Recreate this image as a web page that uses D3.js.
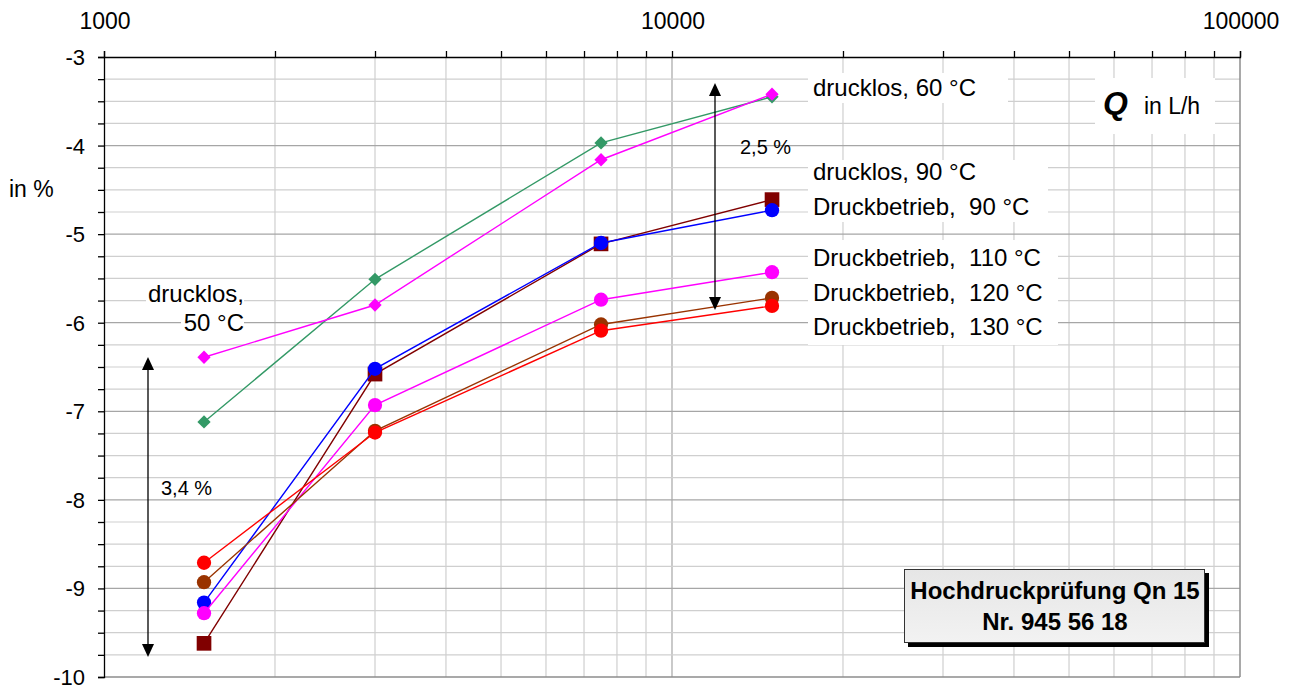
<!DOCTYPE html>
<html>
<head>
<meta charset="utf-8">
<script src="https://cdn.jsdelivr.net/npm/d3@7"></script>
<style>
  html, body { margin: 0; padding: 0; background: #fff; }
  svg { display: block; font-family: "Liberation Sans", Arial, sans-serif; }
</style>
</head>
<body>
<svg id="chart" width="1295" height="691"></svg>
<script>
// Durchfluss Q in L/h (Messpunkte)
const flows = [1500, 3000, 7500, 15000];

// Messabweichung in % je Betriebszustand
const druckl50 = [-6.39, -5.80, -4.16, -3.42];
const druckl60 = [-7.12, -5.51, -3.97, -3.45];
const druckl90 = [-9.62, -6.58, -5.11, -4.61];
const druckb90 = [-9.16, -6.52, -5.10, -4.73];
const druckb110 = [-9.28, -6.93, -5.74, -5.43];
const druckb120 = [-8.93, -7.22, -6.02, -5.72];
const druckb130 = [-8.71, -7.24, -6.09, -5.81];

const xTickLabels = [1000, 10000, 100000];
const yTickLabels = [-3, -4, -5, -6, -7, -8, -9, -10];

const series = [
  { values: druckl60, color: "#339966", shape: "diamond" },
  { values: druckl50, color: "#ff00ff", shape: "diamond" },
  { values: druckl90, color: "#800000", shape: "square" },
  { values: druckb90, color: "#0000ff", shape: "circle" },
  { values: druckb110, color: "#ff00ff", shape: "circle" },
  { values: druckb120, color: "#993300", shape: "circle" },
  { values: druckb130, color: "#ff0000", shape: "circle" }
];

const svg = d3.select("#chart");
const L = 104, R = 1240, T = 57, B = 677;

const x = d3.scaleLog().domain([1000, 100000]).range([L, R]);
const y = d3.scaleLinear().domain([-10, -3]).range([B, T]);

// Gitternetz: senkrecht je Dekadenteilung, waagerecht alle 0,25 %
const xGrid = [];
for (let d = 1000; d < 100000; d *= 10) for (let k = 1; k <= 9; k++) xGrid.push(d * k);
const yGrid = d3.range(-10, -2.99, 0.25);

const grid = svg.append("g");
grid.selectAll("line.v").data(xGrid.filter(v => v > 1000)).join("line")
  .attr("x1", d => x(d)).attr("x2", d => x(d))
  .attr("y1", T).attr("y2", B)
  .attr("stroke", d => (Math.abs(Math.log10(d) % 1) < 1e-9) ? "#a6a6a6" : "#cfcfcf")
  .attr("stroke-width", 1.2);
grid.selectAll("line.h").data(yGrid.filter(v => v > -10 && v < -3)).join("line")
  .attr("x1", L).attr("x2", R)
  .attr("y1", d => y(d)).attr("y2", d => y(d))
  .attr("stroke", d => Math.abs(d - Math.round(d)) < 1e-9 ? "#a6a6a6" : "#cfcfcf")
  .attr("stroke-width", 1.2);

// Rahmen rechts / unten
svg.append("line").attr("x1", R).attr("x2", R).attr("y1", T).attr("y2", B).attr("stroke", "#8c8c8c").attr("stroke-width", 1.5);
svg.append("line").attr("x1", L).attr("x2", R).attr("y1", B).attr("y2", B).attr("stroke", "#8c8c8c").attr("stroke-width", 1.5);

// Achsen
const topAxis = d3.axisTop(x).tickValues(xGrid.concat([100000])).tickSize(6).tickFormat("");
svg.append("g").attr("transform", `translate(0,${T})`).call(topAxis)
  .call(g => g.selectAll("line,path").attr("stroke", "#000").attr("stroke-width", 1.3));
svg.append("g").selectAll("text").data(xTickLabels).join("text")
  .attr("x", d => x(d) + 1).attr("y", 29).attr("text-anchor", "middle")
  .attr("font-size", 23).attr("fill", "#000").text(d => d);

const leftAxis = d3.axisLeft(y).tickValues(yGrid).tickSize(6).tickFormat("");
svg.append("g").attr("transform", `translate(${L},0)`).call(leftAxis)
  .call(g => g.selectAll("line,path").attr("stroke", "#000").attr("stroke-width", 1.3));
svg.append("g").selectAll("text").data(yTickLabels).join("text")
  .attr("x", 85).attr("y", d => y(d) + 8).attr("text-anchor", "end")
  .attr("font-size", 22).attr("fill", "#000").text(d => d);

svg.append("text").attr("x", 9).attr("y", 197).attr("font-size", 23).text("in %");

// Beschriftungsfelder mit weißem Hintergrund
function labelBox(bx, by, bw, bh) {
  svg.append("rect").attr("x", bx).attr("y", by).attr("width", bw).attr("height", bh).attr("fill", "#fff");
}
labelBox(808, 73, 200, 30);
labelBox(808, 160, 240, 62);
labelBox(808, 240, 250, 105);
labelBox(1095, 78, 120, 56);
labelBox(146, 283, 98, 22);
labelBox(181, 309, 63, 24);

// Kurven
const line = d3.line().x((d, i) => x(flows[i])).y(d => y(d));
const sym = { diamond: d3.symbolSquare, square: d3.symbolSquare, circle: d3.symbolCircle };
const size = { diamond: 88, square: 215, circle: 160 };
const rot = { diamond: 45, square: 0, circle: 0 };

series.forEach(s => {
  const g = svg.append("g");
  g.append("path").attr("d", line(s.values)).attr("fill", "none")
    .attr("stroke", s.color).attr("stroke-width", 1.4);
  g.selectAll("path.m").data(s.values).join("path")
    .attr("transform", (d, i) => `translate(${x(flows[i])},${y(d)}) rotate(${rot[s.shape]})`)
    .attr("d", d3.symbol().type(sym[s.shape]).size(size[s.shape]))
    .attr("fill", s.color);
});

// Spannweiten-Pfeile
function arrow(ax, y1, y2) {
  svg.append("line").attr("x1", ax).attr("x2", ax).attr("y1", y1 + 10).attr("y2", y2 - 10)
    .attr("stroke", "#000").attr("stroke-width", 1.3);
  svg.append("path").attr("d", `M${ax},${y1} l-6,13 l12,0 Z`).attr("fill", "#000");
  svg.append("path").attr("d", `M${ax},${y2} l-6,-13 l12,0 Z`).attr("fill", "#000");
}
arrow(148, 357, 657);
arrow(715, 83, 310);

svg.append("text").attr("x", 161).attr("y", 495).attr("font-size", 20).text("3,4 %");
svg.append("text").attr("x", 740).attr("y", 154).attr("font-size", 20).text("2,5 %");

// Reihenbeschriftungen
const lbl = (tx, ty, t, anchor) => svg.append("text").attr("x", tx).attr("y", ty)
  .attr("font-size", 24).attr("text-anchor", anchor || "start").attr("fill", "#000")
  .style("white-space", "pre").text(t);
lbl(813, 96, "drucklos, 60 °C");
lbl(813, 180, "drucklos, 90 °C");
lbl(813, 215, "Druckbetrieb,  90 °C");
lbl(813, 266, "Druckbetrieb,  110 °C");
lbl(813, 301, "Druckbetrieb,  120 °C");
lbl(813, 335, "Druckbetrieb,  130 °C");
lbl(244, 302, "drucklos,", "end");
lbl(244, 331, "50 °C", "end");

// Achsentitel Q
const q = svg.append("text").attr("x", 1103).attr("y", 114);
q.append("tspan").attr("font-size", 32).attr("font-weight", "bold").attr("font-style", "italic").text("Q");
q.append("tspan").attr("font-size", 23).attr("dx", 16).text("in L/h");

// Titelfeld
const grad = svg.append("defs").append("linearGradient").attr("id", "boxfill")
  .attr("x1", 0).attr("x2", 0).attr("y1", 0).attr("y2", 1);
grad.append("stop").attr("offset", 0).attr("stop-color", "#e6e6e6");
grad.append("stop").attr("offset", 1).attr("stop-color", "#f2f2f2");
svg.append("rect").attr("x", 908).attr("y", 573).attr("width", 301).attr("height", 74).attr("fill", "#000");
svg.append("rect").attr("x", 904.5).attr("y", 569.5).attr("width", 300).attr("height", 73)
  .attr("fill", "url(#boxfill)").attr("stroke", "#333").attr("stroke-width", 1);
svg.append("text").attr("x", 1055).attr("y", 599).attr("text-anchor", "middle")
  .attr("font-size", 24).attr("font-weight", "bold").text("Hochdruckprüfung Qn 15");
svg.append("text").attr("x", 1055).attr("y", 630).attr("text-anchor", "middle")
  .attr("font-size", 24).attr("font-weight", "bold").text("Nr. 945 56 18");
</script>
</body>
</html>
